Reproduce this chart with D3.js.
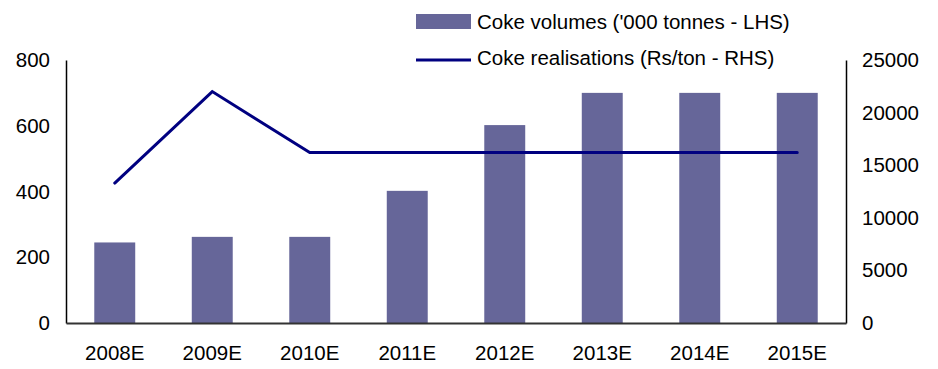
<!DOCTYPE html>
<html><head><meta charset="utf-8">
<script src="https://cdn.jsdelivr.net/npm/d3@7"></script>
<style>body{margin:0;background:#fff}svg{display:block}text{font-family:"Liberation Sans",Arial,sans-serif}</style>
</head><body>
<svg id="c" width="938" height="369"></svg>
<script>
const categories = ["2008E","2009E","2010E","2011E","2012E","2013E","2014E","2015E"];
const volumes = [245, 262, 262, 402, 602, 700, 700, 700];
const realisations = [13300, 22000, 16200, 16200, 16200, 16200, 16200, 16200];
const leftTicks = [0, 200, 400, 600, 800];
const rightTicks = [0, 5000, 10000, 15000, 20000, 25000];
const seriesNames = ["Coke volumes ('000 tonnes - LHS)", "Coke realisations (Rs/ton - RHS)"];

const svg = d3.select("#c");
const L = 66, R = 846, T = 60, B = 323;
const x = d3.scaleBand().domain(categories).range([L, R]).paddingInner(0.58).paddingOuter(0.29);
const xc = d3.scaleBand().domain(categories).range([L, R]);
const yL = d3.scaleLinear().domain([0, 800]).range([B, T]);
const yR = d3.scaleLinear().domain([0, 25000]).range([B, T]);

svg.append("g").selectAll("rect").data(volumes).join("rect")
  .attr("x", (d,i) => x(categories[i])).attr("width", x.bandwidth())
  .attr("y", d => yL(d)).attr("height", d => B - yL(d)).attr("fill", "#666699");

const line = d3.line().x((d,i) => xc(categories[i]) + xc.bandwidth()/2).y(d => yR(d));
svg.append("path").datum(realisations).attr("d", line)
  .attr("fill", "none").attr("stroke", "#000080").attr("stroke-width", 3).attr("stroke-linecap","round");

const fs = "20.5px";
const gl = svg.append("g").attr("transform", `translate(${L},0)`)
  .call(d3.axisLeft(yL).tickValues(leftTicks).tickSize(0).tickPadding(16));
gl.select(".domain").attr("stroke", "#000").attr("stroke-width", 1.5);
gl.selectAll("text").style("font-size", fs).attr("fill", "#000");

const gr = svg.append("g").attr("transform", `translate(${R},0)`)
  .call(d3.axisRight(yR).tickValues(rightTicks).tickFormat(d3.format("d")).tickSize(0).tickPadding(16));
gr.select(".domain").attr("stroke", "#000").attr("stroke-width", 1.5);
gr.selectAll("text").style("font-size", fs).attr("fill", "#000");

const gb = svg.append("g").attr("transform", `translate(0,${B})`)
  .call(d3.axisBottom(xc).tickSize(0).tickPadding(22));
gb.select(".domain").attr("stroke", "#333").attr("stroke-width", 2);
gb.selectAll("text").style("font-size", fs).attr("fill", "#000");

const lg = svg.append("g");
lg.append("rect").attr("x", 416).attr("y", 14).attr("width", 55).attr("height", 15).attr("fill", "#666699");
lg.append("text").attr("x", 477).attr("y", 22).attr("dy", "0.35em").style("font-size", fs).text(seriesNames[0]);
lg.append("line").attr("x1", 416).attr("x2", 471).attr("y1", 60).attr("y2", 60).attr("stroke", "#000080").attr("stroke-width", 3);
lg.append("text").attr("x", 477).attr("y", 58).attr("dy", "0.35em").style("font-size", fs).text(seriesNames[1]);
</script>
</body></html>
